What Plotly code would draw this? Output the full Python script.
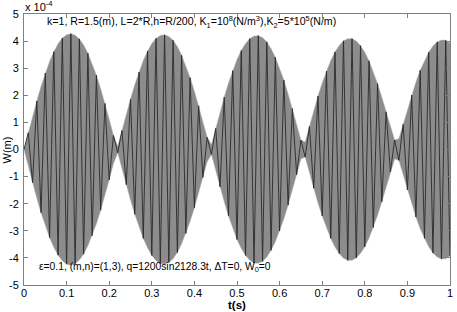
import numpy as np
import plotly.graph_objects as go

# time of sampled turning points (s)
t = [round(0.01 * i, 2) for i in range(101)]

# turning-point amplitudes of W, in units of 1e-4 m
env = [0.00, 0.62, 1.22, 1.79, 2.33, 2.82, 3.25, 3.61, 3.90, 4.11,
       4.23, 4.27, 4.22, 4.08, 3.86, 3.55, 3.18, 2.74, 2.24, 1.70,
       1.12, 0.52, 0.12, 0.70, 1.30, 1.86, 2.39, 2.86, 3.28, 3.63,
       3.91, 4.10, 4.21, 4.23, 4.17, 4.03, 3.80, 3.48, 3.10, 2.65,
       2.15, 1.61, 1.03, 0.45, 0.18, 0.78, 1.38, 1.93, 2.45, 2.91,
       3.32, 3.65, 3.91, 4.09, 4.19, 4.20, 4.13, 3.97, 3.72, 3.40,
       3.01, 2.56, 2.05, 1.51, 0.93, 0.35, 0.28, 0.85, 1.43, 1.97,
       2.45, 2.89, 3.28, 3.60, 3.84, 4.01, 4.09, 4.09, 4.00, 3.83,
       3.59, 3.27, 2.88, 2.43, 1.93, 1.39, 0.82, 0.35, 0.40, 0.93,
       1.49, 2.01, 2.49, 2.92, 3.28, 3.59, 3.82, 3.97, 4.04, 4.03,
       3.93]

xticks = [0, 0.1, 0.2, 0.3, 0.4, 0.5, 0.6, 0.7, 0.8, 0.9, 1]
xlabels = ["0", "0.1", "0.2", "0.3", "0.4", "0.5", "0.6", "0.7", "0.8", "0.9", "1"]
yticks = [-5, -4, -3, -2, -1, 0, 1, 2, 3, 4, 5]
ylabels = ["-5", "-4", "-3", "-2", "-1", "0", "1", "2", "3", "4", "5"]

env_a = np.array(env)
sign = np.array([1 if i % 2 else -1 for i in range(len(env))])
w = env_a * sign

FONT = "Liberation Sans, Arial, sans-serif"

fig = go.Figure()
fig.add_trace(go.Scatter(x=t, y=env_a, mode="lines", line=dict(width=0.5, color="#b0b0b0"),
                         hoverinfo="skip", showlegend=False))
fig.add_trace(go.Scatter(x=t, y=-env_a, mode="lines", line=dict(width=0.5, color="#b0b0b0"),
                         fill="tonexty", fillcolor="#8c8c8c", hoverinfo="skip", showlegend=False))
fig.add_trace(go.Scatter(x=t, y=w, mode="lines", line=dict(width=0.9, color="#2a2a2a"),
                         showlegend=False))

axis_common = dict(showgrid=False, zeroline=False, showline=True, linecolor="#808080",
                   linewidth=1, mirror="ticks", ticks="inside", ticklen=4,
                   tickcolor="#808080", tickfont=dict(family=FONT, size=11, color="black"))

fig.update_xaxes(range=[0, 1], tickvals=xticks, ticktext=xlabels, ticklabelstandoff=-2,
                 **axis_common)
fig.update_yaxes(range=[-5, 5], tickvals=yticks, ticktext=ylabels, ticklabelstandoff=2,
                 **axis_common)

fig.update_layout(
    width=457, height=312,
    margin=dict(l=24, r=4, t=14, b=27),
    paper_bgcolor="white", plot_bgcolor="white",
    font=dict(family=FONT, size=11, color="black"),
    annotations=[
        dict(text="k=1, R=1.5(m), L=2*R,h=R/200, K<sub>1</sub>=10<sup>8</sup>(N/m<sup>3</sup>),K<sub>2</sub>=5*10<sup>5</sup>(N/m)",
             xref="paper", yref="paper", x=0.049, y=0.97, xanchor="left", yanchor="middle",
             showarrow=False, font=dict(size=10.6)),
        dict(text="ε=0.1, (m,n)=(1,3), q=1200sin2128.3t, ΔT=0, W<sub>0</sub>=0",
             xref="paper", yref="paper", x=0.03, y=0.063, xanchor="left", yanchor="middle",
             showarrow=False, font=dict(size=10.3)),
        dict(text="x 10<sup>-4</sup>", xref="paper", yref="paper", x=-0.002, y=1.028,
             xanchor="left", yanchor="middle", showarrow=False, font=dict(size=11)),
        dict(text="W(m)", xref="paper", yref="paper", x=-0.04, y=0.5, textangle=-90,
             xanchor="center", yanchor="middle", showarrow=False, font=dict(size=11)),
        dict(text="<b>t(s)</b>", xref="paper", yref="paper", x=0.5, y=-0.074,
             xanchor="center", yanchor="middle", showarrow=False, font=dict(size=11.5)),
    ],
)

fig.write_html("out.html")
